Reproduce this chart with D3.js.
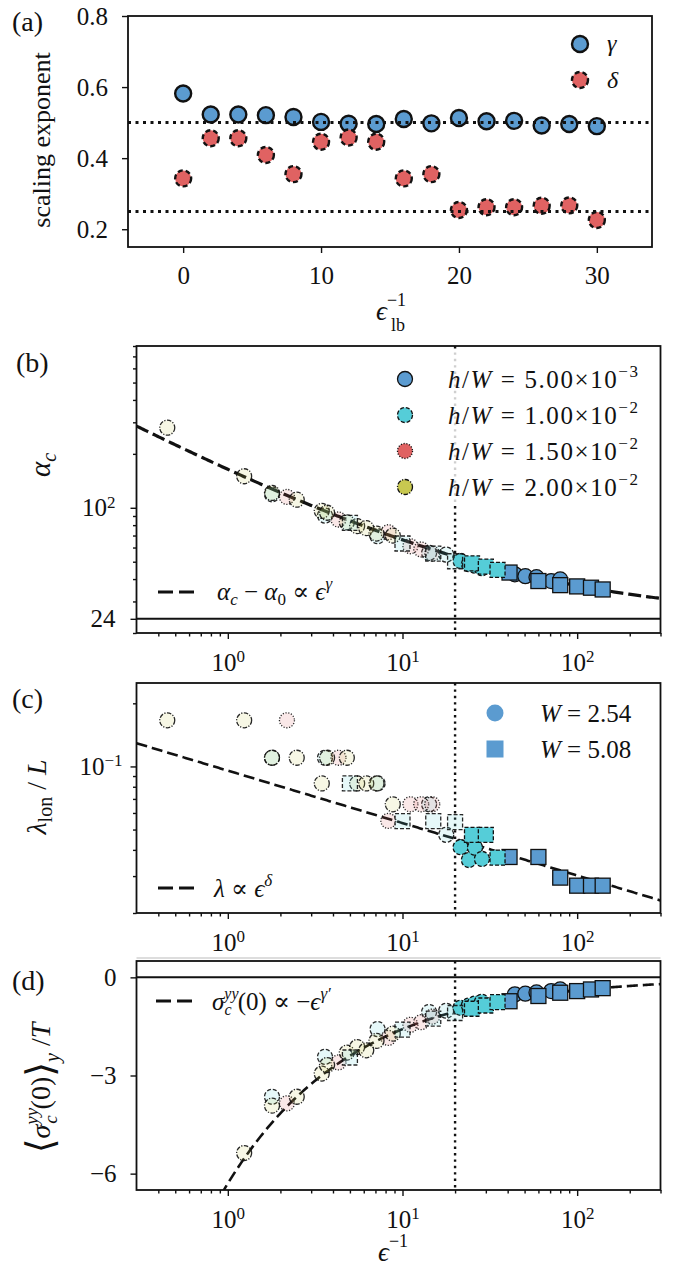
<!DOCTYPE html>
<html>
<head>
<meta charset="utf-8">
<title></title>
<style type="text/css">
body { margin: 0; background: #fff; }
svg text { font-family: "Liberation Serif", "DejaVu Serif", serif; fill: #111; }
</style>
</head>
<body>
<svg id="fig" width="673" height="1267"></svg>
<script src="https://cdn.jsdelivr.net/npm/d3@7/dist/d3.min.js"></script>
<script>
// ---- panel (a): scaling exponents vs lower bound of the fit
var lbInv = [0, 2, 4, 6, 8, 10, 12, 14, 16, 18, 20, 22, 24, 26, 28, 30];
var gammaVals = [0.582, 0.523, 0.523, 0.521, 0.516, 0.502, 0.497, 0.496, 0.510, 0.498, 0.513, 0.504, 0.505, 0.492, 0.496, 0.490];
var deltaVals = [0.343, 0.456, 0.456, 0.409, 0.355, 0.446, 0.458, 0.446, 0.343, 0.355, 0.254, 0.262, 0.262, 0.266, 0.267, 0.226];
var refLines = [0.5, 0.25];

// ---- panels (b)-(d): W = 2.54 (circles)
var epsBlueC = [44, 50.5, 58.5, 71, 80];
var alphaBlueC = [42.5, 41.5, 41, 39, 39.8];
var lamBlueC = [null, null, null, null, null];
var sigBlueC = [-0.52, -0.5, -0.46, -0.42, -0.37];

var epsCyanC = [1.79, 3.6, 7.2, 14.2, 17.8, 21.5, 24, 26, 28.5];
var alphaCyanC = [119, 90.5, 69.4, 56, 54.8, 50.5, 48.5, 47.5, 46];
var lamCyanC = [0.11, 0.11, 0.083, 0.066, 0.0472, 0.0412, 0.0358, 0.041, 0.0362];
var sigCyanC = [-3.65, -2.43, -1.58, -1.06, -1.02, -0.93, -0.86, -0.8, -0.75];

var epsRedC = [2.18, 4.3, 8.3, 11.1, 12.8, 14.8];
var alphaRedC = [115, 86, 73, 61, 58.5, 55.5];
var lamRedC = [0.166, 0.11, 0.055, 0.066, 0.066, 0.066];
var sigRedC = [-3.85, -2.6, -1.85, -1.45, -1.37, -1.2];

var epsOliveC = [0.45, 1.24, 1.79, 2.48, 3.45, 3.7, 4.8, 5.5, 6.2, 7.1, 8.8];
var alphaOliveC = [280, 150, 121, 111, 96, 93.8, 83, 79, 77, 71.8, 70];
var lamOliveC = [0.166, 0.166, 0.11, 0.11, 0.083, 0.11, 0.11, 0.083, 0.083, 0.083, 0.066];
var sigOliveC = [-7.6, -5.37, -3.92, -3.65, -2.94, -2.68, -2.3, -2.13, -2.23, -1.94, -1.72];

// ---- W = 5.08 (squares)
var epsBlueS = [41, 60, 80, 100, 120, 140];
var alphaBlueS = [43.5, 39, 37, 36.4, 35.8, 35];
var lamBlueS = [0.037, 0.037, 0.0295, 0.027, 0.027, 0.027];
var sigBlueS = [-0.73, -0.57, -0.47, -0.42, -0.37, -0.33];

var epsCyanS = [5, 10, 15, 20, 25, 30, 35];
var alphaCyanS = [82.4, 63.2, 55.5, 50.3, 49, 47, 45];
var lamCyanS = [0.083, 0.0549, 0.0549, 0.0543, 0.0472, 0.0472, 0.0367];
var sigCyanS = [-2.45, -1.6, -1.26, -1.09, -0.96, -0.86, -0.76];

// fit parameters
var alpha0 = 24, alphaAmp = 140, gammaFit = 0.52;
var lamAmp = 0.0955, deltaFit = 0.25;
var sigAmp = 6.3, gammaPrime = 0.6;
var epsCut = 20;

var hwLabels = ["5.00", "1.00", "1.50", "2.00"];
var hwExps = ["\u22123", "\u22122", "\u22122", "\u22122"];

var cBlue = "#5b9bd0", cCyan = "#55cdd8", cRed = "#e06262", cOlive = "#c8c850";
var dashStyle = { solid: null, dashed: "4,2", dotted: "1.2,1.6", dashdot: "4.5,1.5,1.2,1.5" };

// draw order: circles by h/W, then squares
var groups = [
  { x: epsBlueC, b: alphaBlueC, c: lamBlueC, d: sigBlueC, color: cBlue, edge: "solid", shape: "circle" },
  { x: epsCyanC, b: alphaCyanC, c: lamCyanC, d: sigCyanC, color: cCyan, edge: "dashed", shape: "circle" },
  { x: epsRedC, b: alphaRedC, c: lamRedC, d: sigRedC, color: cRed, edge: "dotted", shape: "circle" },
  { x: epsOliveC, b: alphaOliveC, c: lamOliveC, d: sigOliveC, color: cOlive, edge: "dashdot", shape: "circle" },
  { x: epsBlueS, b: alphaBlueS, c: lamBlueS, d: sigBlueS, color: cBlue, edge: "solid", shape: "square" },
  { x: epsCyanS, b: alphaCyanS, c: lamCyanS, d: sigCyanS, color: cCyan, edge: "dashed", shape: "square" }
];

var svg = d3.select("#fig");
var FS = 25;

function styleAxis(g) {
  g.select(".domain").remove();
  g.selectAll(".tick line").attr("stroke", "#111").attr("stroke-width", 1.4);
  g.selectAll(".tick text").attr("font-size", FS).attr("fill", "#111");
}

function powLabels(g) {
  g.selectAll(".tick text").each(function(d) {
    var t = d3.select(this), e = Math.round(Math.log10(d));
    t.text(null);
    t.append("tspan").text("10");
    t.append("tspan").attr("dy", "-0.5em").attr("font-size", 17).text(e < 0 ? "\u2212" + (-e) : e);
  });
}

function frame(x0, x1, y0, y1) {
  svg.append("rect").attr("x", x0).attr("y", y0).attr("width", x1 - x0).attr("height", y1 - y0)
    .attr("fill", "none").attr("stroke", "#111").attr("stroke-width", 1.8);
}

function clipFor(id, x0, x1, y0, y1) {
  svg.append("clipPath").attr("id", id).append("rect")
    .attr("x", x0).attr("y", y0).attr("width", x1 - x0).attr("height", y1 - y0);
  return "url(#" + id + ")";
}

function drawMarker(g, shape, cx, cy, r, fill, fillOp, edge, sw) {
  var m;
  if (shape === "circle") {
    m = g.append("circle").attr("cx", cx).attr("cy", cy).attr("r", r);
  } else {
    m = g.append("rect").attr("x", cx - r).attr("y", cy - r).attr("width", 2 * r).attr("height", 2 * r);
  }
  m.attr("fill", fill).attr("fill-opacity", fillOp)
    .attr("stroke", edge === "none" ? "none" : "#111").attr("stroke-width", sw)
    .attr("stroke-dasharray", dashStyle[edge] || null);
  return m;
}

// ---------- log x axis shared by (b)-(d)
var XL = 136.5, XR = 660.5;
var xLog = d3.scaleLog().domain([0.3, 300]).range([XL, XR]);
var xMajor = [1, 10, 100];
var xMinor = [0.4, 0.5, 0.6, 0.7, 0.8, 0.9, 2, 3, 4, 5, 6, 7, 8, 9, 20, 30, 40, 50, 60, 70, 80, 90, 200, 300];

function logXAxis(yb) {
  svg.append("g").attr("transform", "translate(0," + yb + ")")
    .call(d3.axisBottom(xLog).tickValues(xMinor).tickSize(3.5).tickFormat(""))
    .call(styleAxis);
  svg.append("g").attr("transform", "translate(0," + yb + ")")
    .call(d3.axisBottom(xLog).tickValues(xMajor).tickSize(6).tickPadding(14))
    .call(styleAxis).call(powLabels);
}

function fitPath(fn, yScale) {
  var xs = d3.range(0, 301).map(function(i) { return 0.3 * Math.pow(1000, i / 300); });
  return d3.line().x(function(v) { return xLog(v); }).y(function(v) { return yScale(fn(v)); })(xs);
}

function drawGroups(key, yScale, clip) {
  var g = svg.append("g").attr("clip-path", clip);
  groups.forEach(function(grp) {
    grp.x.forEach(function(xv, i) {
      var yv = grp[key][i];
      if (yv === null) return;
      var faded = xv <= epsCut;
      drawMarker(g, grp.shape, xLog(xv), yScale(yv), 7.5, grp.color, faded ? 0.15 : 1,
        grp.edge, 1.3).attr("stroke-opacity", faded ? 0.9 : 1);
    });
  });
}

function vCut(y0, y1) {
  svg.append("line").attr("x1", xLog(epsCut)).attr("x2", xLog(epsCut)).attr("y1", y0).attr("y2", y1)
    .attr("stroke", "#111").attr("stroke-width", 2.4).attr("stroke-dasharray", "2.4,4");
}

function panelTag(txt, x, y) {
  svg.append("text").attr("x", x).attr("y", y).attr("font-size", 28).text(txt);
}

// =================== (a)
var aT = 16, aB = 247, aL = 128, aR = 652;
var xa = d3.scaleLinear().domain([-4, 34]).range([aL, aR]);
var ya = d3.scaleLinear().domain([0.15, 0.8]).range([aB, aT]);

svg.append("g").attr("transform", "translate(0," + aB + ")")
  .call(d3.axisBottom(xa).tickValues([0, 10, 20, 30]).tickSize(6).tickPadding(13))
  .call(styleAxis);
svg.append("g").attr("transform", "translate(" + aL + ",0)")
  .call(d3.axisLeft(ya).tickValues([0.2, 0.4, 0.6, 0.8]).tickSize(6).tickPadding(14).tickFormat(d3.format(".1f")))
  .call(styleAxis);

var ga = svg.append("g");
lbInv.forEach(function(xv, i) {
  drawMarker(ga, "circle", xa(xv), ya(gammaVals[i]), 8, cBlue, 1, "solid", 2.4);
});
lbInv.forEach(function(xv, i) {
  drawMarker(ga, "circle", xa(xv), ya(deltaVals[i]), 8, cRed, 1, "dashed", 2.4).attr("stroke-dasharray", "5,3");
});
// reference lines sit on top of the markers
refLines.forEach(function(v) {
  svg.append("line").attr("x1", aL).attr("x2", aR).attr("y1", ya(v)).attr("y2", ya(v))
    .attr("stroke", "#111").attr("stroke-width", 3).attr("stroke-dasharray", "3,4.5");
});
frame(aL, aR, aT, aB);

drawMarker(svg, "circle", 580, 44, 8, cBlue, 1, "solid", 2.4);
drawMarker(svg, "circle", 580, 80, 8, cRed, 1, "dashed", 2.4).attr("stroke-dasharray", "5,3");
svg.append("text").attr("x", 607).attr("y", 51).attr("font-size", 24).attr("font-style", "italic").text("\u03b3");
svg.append("text").attr("x", 607).attr("y", 88).attr("font-size", 24).attr("font-style", "italic").text("\u03b4");

svg.append("text").attr("transform", "translate(50,140) rotate(-90)").attr("text-anchor", "middle")
  .attr("font-size", 26).text("scaling exponent");

var xla = svg.append("text").attr("x", 376).attr("y", 320).attr("font-size", 27);
xla.append("tspan").attr("font-style", "italic").text("\u03f5");
xla.append("tspan").attr("font-size", 18).attr("dy", -14).text("\u22121");
svg.append("text").attr("x", 391).attr("y", 331).attr("font-size", 18).text("lb");
panelTag("(a)", 12, 31);

// =================== (b)
var bT = 346, bB = 633;
var yb = d3.scaleLog().domain([20, 800]).range([bB, bT]);
var bMinor = [20, 30, 40, 50, 60, 70, 80, 90, 200, 300, 400, 500, 600, 700, 800];
var clipB = clipFor("clipb", XL, XR, bT, bB);

svg.append("g").attr("transform", "translate(" + XL + ",0)")
  .call(d3.axisLeft(yb).tickValues(bMinor).tickSize(3.5).tickFormat(""))
  .call(styleAxis);
svg.append("g").attr("transform", "translate(" + XL + ",0)")
  .call(d3.axisLeft(yb).tickValues([alpha0, 100]).tickSize(6).tickPadding(15).tickFormat(d3.format("d")))
  .call(styleAxis)
  .call(function(g) {
    g.selectAll(".tick text").filter(function(d) { return d === 100; }).each(function() {
      var t = d3.select(this);
      t.text(null);
      t.append("tspan").text("10");
      t.append("tspan").attr("dy", "-0.5em").attr("font-size", 17).text("2");
    });
  });
logXAxis(bB);

svg.append("line").attr("x1", XL).attr("x2", XR).attr("y1", yb(alpha0)).attr("y2", yb(alpha0))
  .attr("stroke", "#111").attr("stroke-width", 2);
vCut(bT, bB);
svg.append("path").attr("clip-path", clipB)
  .attr("d", fitPath(function(v) { return alpha0 + alphaAmp * Math.pow(v, -gammaFit); }, yb))
  .attr("fill", "none").attr("stroke", "#111").attr("stroke-width", 3.2).attr("stroke-dasharray", "13,5");
drawGroups("b", yb, clipB);

// legend box (semi transparent, hides the dotted line)
svg.append("rect").attr("x", 390).attr("y", 350).attr("width", 264).attr("height", 156).attr("rx", 4)
  .attr("fill", "#fff").attr("fill-opacity", 0.8);
var legColors = [cBlue, cCyan, cRed, cOlive];
var legEdges = ["solid", "dashed", "dotted", "dashdot"];
hwLabels.forEach(function(lab, i) {
  var y = 379 + i * 36;
  drawMarker(svg, "circle", 405, y, 7.5, legColors[i], 1, legEdges[i], 1.3);
  var t = svg.append("text").attr("x", 448).attr("y", y + 9).attr("font-size", 25)
    .attr("textLength", 190).attr("lengthAdjust", "spacing");
  t.append("tspan").attr("font-style", "italic").text("h");
  t.append("tspan").text("/");
  t.append("tspan").attr("font-style", "italic").text("W");
  t.append("tspan").text(" = " + lab + "\u00d710");
  t.append("tspan").attr("dy", -11).attr("font-size", 17).text(hwExps[i]);
});

svg.append("line").attr("x1", 158).attr("x2", 200).attr("y1", 592).attr("y2", 592)
  .attr("stroke", "#111").attr("stroke-width", 3.2).attr("stroke-dasharray", "15,6");
var lb = svg.append("text").attr("x", 217).attr("y", 600).attr("font-size", 25);
lb.append("tspan").attr("font-style", "italic").text("\u03b1");
lb.append("tspan").attr("font-style", "italic").attr("font-size", 17).attr("dy", 5).text("c");
lb.append("tspan").attr("dy", -5).text(" \u2212 ");
lb.append("tspan").attr("font-style", "italic").text("\u03b1");
lb.append("tspan").attr("font-size", 17).attr("dy", 5).text("0");
lb.append("tspan").attr("dy", -5).text(" \u221d ");
lb.append("tspan").attr("font-style", "italic").text("\u03f5");
lb.append("tspan").attr("font-style", "italic").attr("font-size", 17).attr("dy", -11).text("\u03b3");
frame(XL, XR, bT, bB);

var ylb = svg.append("text").attr("transform", "translate(50,465) rotate(-90)").attr("text-anchor", "middle")
  .attr("font-size", 29);
ylb.append("tspan").attr("font-style", "italic").text("\u03b1");
ylb.append("tspan").attr("font-style", "italic").attr("font-size", 20).attr("dy", 6).text("c");
panelTag("(b)", 16, 372);

// =================== (c)
var cT = 683, cB = 913;
var yc = d3.scaleLog().domain([0.02, 0.25]).range([cB, cT]);
var cMinor = [0.02, 0.03, 0.04, 0.05, 0.06, 0.07, 0.08, 0.09, 0.2];
var clipC = clipFor("clipc", XL, XR, cT, cB);

svg.append("g").attr("transform", "translate(" + XL + ",0)")
  .call(d3.axisLeft(yc).tickValues(cMinor).tickSize(3.5).tickFormat(""))
  .call(styleAxis);
svg.append("g").attr("transform", "translate(" + XL + ",0)")
  .call(d3.axisLeft(yc).tickValues([0.1]).tickSize(6).tickPadding(8))
  .call(styleAxis).call(powLabels);
logXAxis(cB);

vCut(cT, cB);
svg.append("path").attr("clip-path", clipC)
  .attr("d", fitPath(function(v) { return lamAmp * Math.pow(v, -deltaFit); }, yc))
  .attr("fill", "none").attr("stroke", "#111").attr("stroke-width", 2.6).attr("stroke-dasharray", "11,5");
drawGroups("c", yc, clipC);

drawMarker(svg, "circle", 495, 713, 8.5, cBlue, 1, "none", 0);
drawMarker(svg, "square", 495, 749, 8.5, cBlue, 1, "none", 0);
svg.append("text").attr("x", 540).attr("y", 722).attr("font-size", 25)
  .call(function(t) { t.append("tspan").attr("font-style", "italic").text("W"); t.append("tspan").text(" =  2.54"); });
svg.append("text").attr("x", 540).attr("y", 758).attr("font-size", 25)
  .call(function(t) { t.append("tspan").attr("font-style", "italic").text("W"); t.append("tspan").text(" =  5.08"); });

svg.append("line").attr("x1", 158).attr("x2", 200).attr("y1", 888).attr("y2", 888)
  .attr("stroke", "#111").attr("stroke-width", 3).attr("stroke-dasharray", "15,6");
var lc = svg.append("text").attr("x", 214).attr("y", 897).attr("font-size", 25);
lc.append("tspan").attr("font-style", "italic").text("\u03bb \u221d \u03f5");
lc.append("tspan").attr("font-style", "italic").attr("font-size", 17).attr("dy", -11).text("\u03b4");
frame(XL, XR, cT, cB);

svg.append("line").attr("x1", XL).attr("x2", XR).attr("y1", 958).attr("y2", 958)
  .attr("stroke", "#bbb").attr("stroke-width", 1);

var ylc = svg.append("text").attr("transform", "translate(46,797) rotate(-90)").attr("text-anchor", "middle")
  .attr("font-size", 28);
ylc.append("tspan").attr("font-style", "italic").text("\u03bb");
ylc.append("tspan").attr("font-size", 20).attr("dy", 6).text("lon");
ylc.append("tspan").attr("dy", -6).text(" / ");
ylc.append("tspan").attr("font-style", "italic").text("L");
panelTag("(c)", 12, 708);

// =================== (d)
var dT = 961, dB = 1190;
var yd = d3.scaleLinear().domain([-6.5, 0.5]).range([dB, dT]);
var clipD = clipFor("clipd", XL, XR, dT, dB);

svg.append("g").attr("transform", "translate(" + XL + ",0)")
  .call(d3.axisLeft(yd).tickValues([-6, -3, 0]).tickSize(6).tickPadding(14)
    .tickFormat(function(d) { return d < 0 ? "\u2212" + (-d) : d; }))
  .call(styleAxis);
logXAxis(dB);

svg.append("line").attr("x1", XL).attr("x2", XR).attr("y1", yd(0)).attr("y2", yd(0))
  .attr("stroke", "#111").attr("stroke-width", 2);
vCut(dT, dB);
svg.append("path").attr("clip-path", clipD)
  .attr("d", fitPath(function(v) { return -sigAmp * Math.pow(v, -gammaPrime); }, yd))
  .attr("fill", "none").attr("stroke", "#111").attr("stroke-width", 2.6).attr("stroke-dasharray", "11,5");
drawGroups("d", yd, clipD);

svg.append("line").attr("x1", 156).attr("x2", 198).attr("y1", 1001).attr("y2", 1001)
  .attr("stroke", "#111").attr("stroke-width", 3).attr("stroke-dasharray", "15,6");
var ld = svg.append("text").attr("x", 212).attr("y", 1010).attr("font-size", 25);
ld.append("tspan").attr("font-style", "italic").text("\u03c3");
ld.append("tspan").attr("font-style", "italic").attr("font-size", 16).attr("dy", -11).text("yy");
ld.append("tspan").attr("font-style", "italic").attr("font-size", 16).attr("dx", -14).attr("dy", 16).text("c");
ld.append("tspan").attr("dx", 6).attr("dy", -5).text("(0) \u221d \u2212");
ld.append("tspan").attr("font-style", "italic").text("\u03f5");
ld.append("tspan").attr("font-style", "italic").attr("font-size", 17).attr("dy", -11).text("\u03b3\u2032");
frame(XL, XR, dT, dB);

var yld = svg.append("text").attr("transform", "translate(50,1088) rotate(-90)").attr("text-anchor", "middle")
  .attr("font-size", 28);
yld.append("tspan").attr("font-size", 38).attr("dy", 3).text("\u27e8");
yld.append("tspan").attr("font-style", "italic").attr("dy", -3).text("\u03c3");
yld.append("tspan").attr("font-style", "italic").attr("font-size", 19).attr("dy", -12).text("yy");
yld.append("tspan").attr("font-style", "italic").attr("font-size", 19).attr("dx", -16).attr("dy", 19).text("c");
yld.append("tspan").attr("dx", 6).attr("dy", -7).text("(0)");
yld.append("tspan").attr("font-size", 38).attr("dy", 3).text("\u27e9");
yld.append("tspan").attr("font-style", "italic").attr("font-size", 20).attr("dy", 6).text("y");
yld.append("tspan").attr("dy", -9).text(" /");
yld.append("tspan").attr("font-style", "italic").text("T");
panelTag("(d)", 12, 990);

var xld = svg.append("text").attr("x", 378).attr("y", 1261).attr("font-size", 27);
xld.append("tspan").attr("font-style", "italic").text("\u03f5");
xld.append("tspan").attr("font-size", 18).attr("dy", -14).text("\u22121");
</script>
</body>
</html>
